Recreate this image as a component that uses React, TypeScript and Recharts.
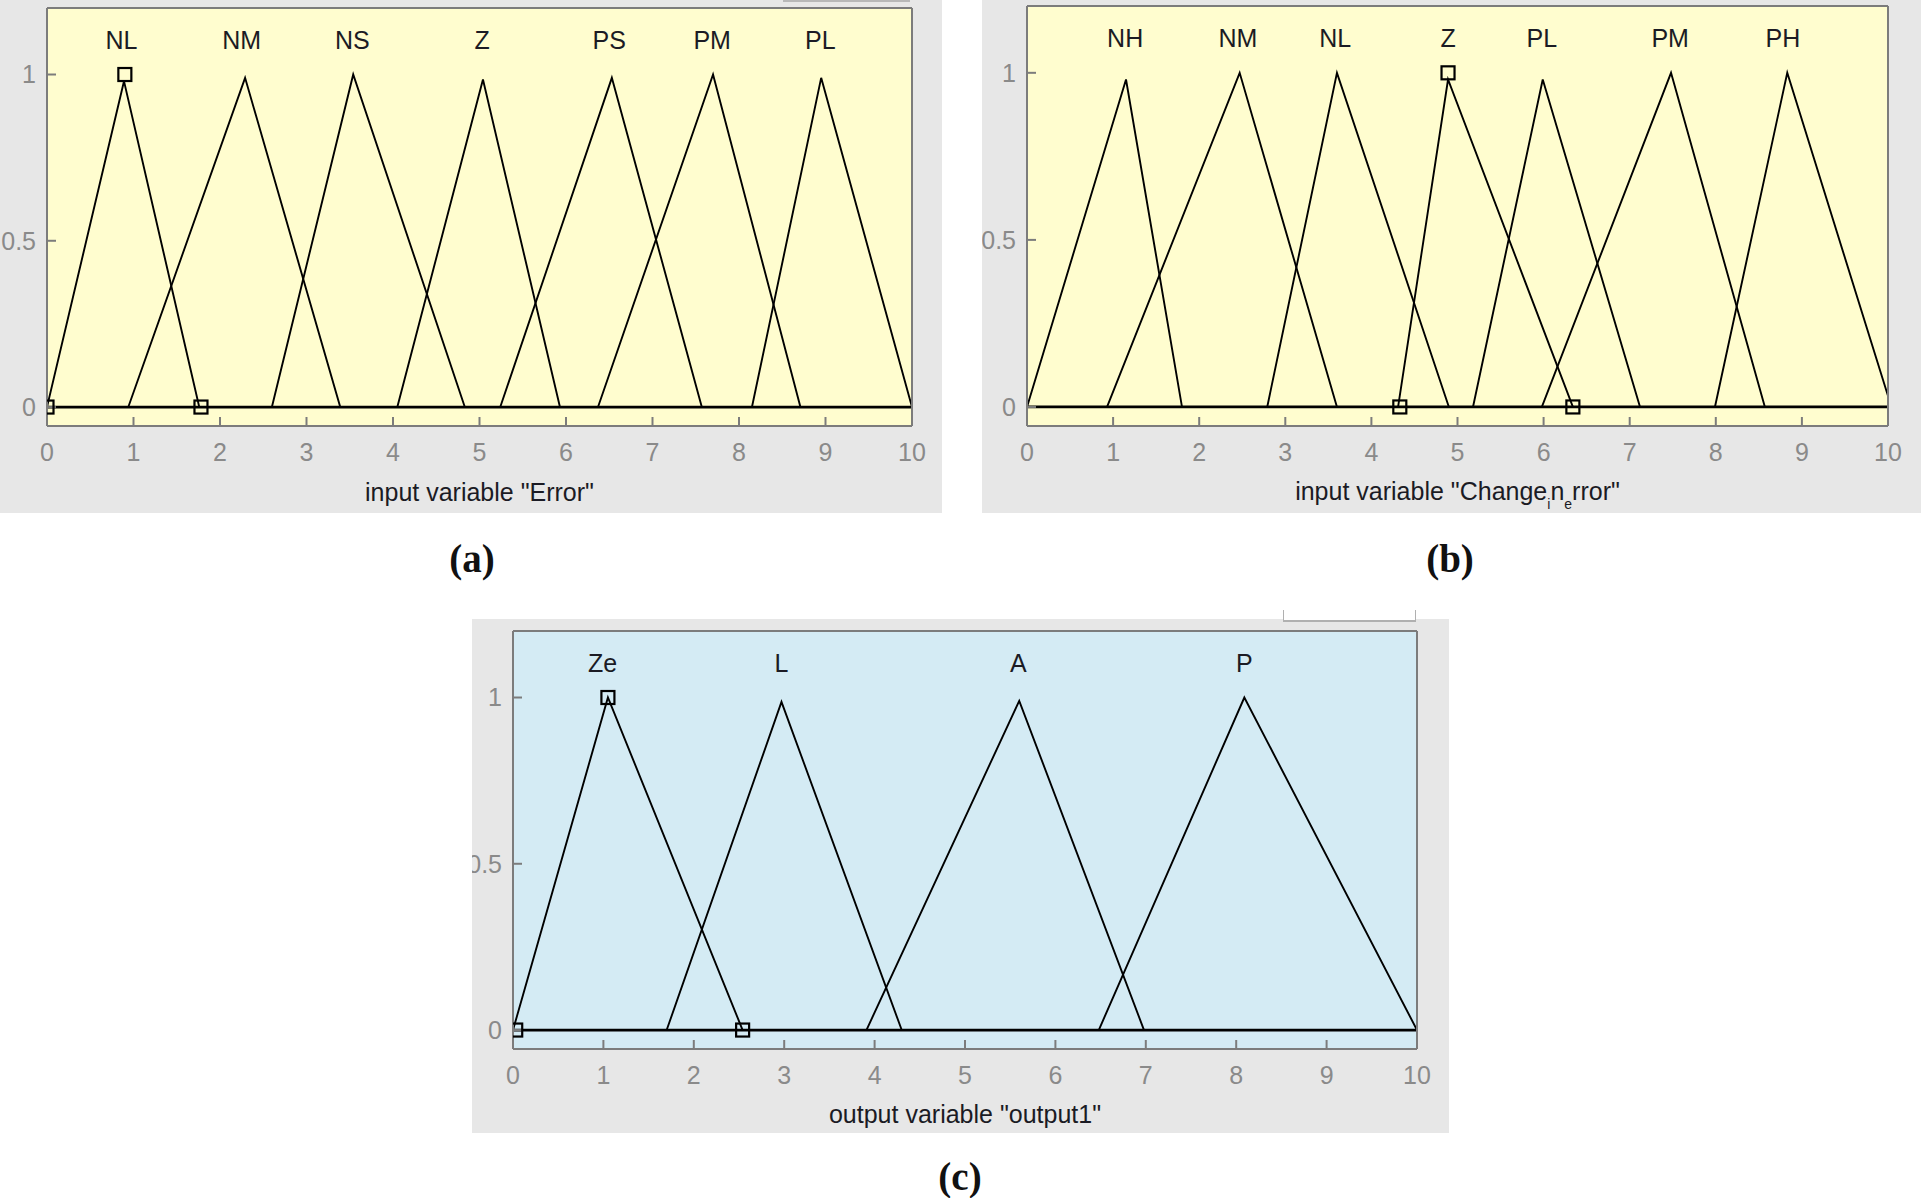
import React from "react";
import {
  ComposedChart,
  Line,
  Scatter,
  XAxis,
  YAxis,
  CartesianGrid,
} from "recharts";

const xTicks = [0, 1, 2, 3, 4, 5, 6, 7, 8, 9, 10];
const yTicks = [0, 0.5, 1];
const labelLevel = 1.105;

// (a) input variable "Error"
const errorNames = ["NL", "NM", "NS", "Z", "PS", "PM", "PL"];
const errorStart = [0, 0.94, 2.6, 4.05, 5.24, 6.37, 8.15];
const errorPeak = [0.89, 2.29, 3.54, 5.04, 6.53, 7.7, 8.95];
const errorEnd = [1.76, 3.39, 4.83, 5.93, 7.57, 8.71, 10];
const errorHeight = [0.98, 0.99, 1, 0.985, 0.99, 1, 0.99];
const errorLabelX = [0.86, 2.25, 3.53, 5.03, 6.5, 7.69, 8.94];
const errorMarkX = [0, 0.9, 1.78];
const errorMarkY = [0, 1, 0];

// (b) input variable "Change_in_error"
const changeNames = ["NH", "NM", "NL", "Z", "PL", "PM", "PH"];
const changeStart = [0, 0.93, 2.79, 4.31, 5.18, 5.98, 7.99];
const changePeak = [1.15, 2.47, 3.6, 4.89, 5.99, 7.48, 8.83];
const changeEnd = [1.8, 3.6, 4.9, 6.34, 7.12, 8.57, 10.04];
const changeHeight = [0.98, 1, 1, 0.98, 0.98, 1, 1];
const changeLabelX = [1.14, 2.45, 3.58, 4.89, 5.98, 7.47, 8.78];
const changeMarkX = [4.33, 4.89, 6.34];
const changeMarkY = [0, 1, 0];

// (c) output variable "output1"
const outNames = ["Ze", "L", "A", "P"];
const outStart = [0, 1.7, 3.91, 6.48];
const outPeak = [1.05, 2.97, 5.6, 8.09];
const outEnd = [2.54, 4.3, 6.98, 10];
const outHeight = [1, 0.987, 0.99, 1];
const outLabelX = [0.99, 2.97, 5.59, 8.09];
const outMarkX = [0.03, 1.05, 2.54];
const outMarkY = [0, 1, 0];

const font = '"Liberation Sans", Arial, sans-serif';
const boxColor = "#7c7c7c";
const tickColor = "#8a8a8a";
const panelGray = "#e7e7e7";

function MfPanel(props: any) {
  const {
    left, top, w, h, plot, bg, names, starts, peaks, ends, heights,
    labelX, markX, markY, title, titleY,
  } = props;
  const [pl, pt, pr, pb] = plot;
  const tris = starts.map((s: number, i: number) => [
    { x: s, y: 0 },
    { x: peaks[i], y: heights[i] },
    { x: ends[i], y: 0 },
  ]);
  const labels = names.map((n: string, i: number) => ({ x: labelX[i], y: labelLevel, name: n }));
  const marks = markX.map((x: number, i: number) => ({ x, y: markY[i] }));

  return (
    <div
      style={{
        position: "absolute", left, top, width: w, height: h,
        background: panelGray, overflow: "hidden", fontFamily: font,
      }}
    >
      <ComposedChart
        width={w}
        height={h}
        margin={{ top: pt - 1, right: w - pr - 1, bottom: 0, left: 0 }}
      >
        <CartesianGrid horizontal={false} vertical={false} fill={bg} fillOpacity={1} stroke="none" />
        <XAxis
          type="number" dataKey="x" domain={[0, 10]} ticks={xTicks} interval={0}
          allowDataOverflow height={h - pb} tickSize={-9} tickMargin={26}
          axisLine={{ stroke: boxColor, strokeWidth: 2 }}
          tickLine={{ stroke: boxColor, strokeWidth: 2 }}
          tick={{ fill: tickColor, fontSize: 25 }}
        />
        <XAxis
          xAxisId="top" orientation="top" type="number" domain={[0, 10]} ticks={xTicks}
          interval={0} allowDataOverflow height={1} tickSize={-8} tick={false}
          axisLine={{ stroke: boxColor, strokeWidth: 2 }}
          tickLine={{ stroke: boxColor, strokeWidth: 2 }}
        />
        <YAxis
          type="number" dataKey="y" domain={[-0.057, 1.2]} ticks={yTicks} interval={0}
          allowDataOverflow width={pl} tickSize={-9} tickMargin={20}
          axisLine={{ stroke: boxColor, strokeWidth: 2 }}
          tickLine={{ stroke: boxColor, strokeWidth: 2 }}
          tick={{ fill: tickColor, fontSize: 25 }}
        />
        <YAxis
          yAxisId="right" orientation="right" type="number" domain={[-0.057, 1.2]}
          ticks={yTicks} interval={0} allowDataOverflow width={1} tickSize={-9} tick={false}
          axisLine={{ stroke: boxColor, strokeWidth: 2 }}
          tickLine={{ stroke: boxColor, strokeWidth: 2 }}
        />
        <Line
          data={[{ x: 0, y: 0 }, { x: 10, y: 0 }]} dataKey="y" type="linear"
          stroke="#000" strokeWidth={2.8} dot={false} isAnimationActive={false}
        />
        {tris.map((d: any, i: number) => (
          <Line
            key={i} data={d} dataKey="y" type="linear" stroke="#000"
            strokeWidth={1.9} dot={false} isAnimationActive={false}
          />
        ))}
        <Scatter
          data={marks} dataKey="y" isAnimationActive={false}
          shape={(p: any) => (
            <rect x={p.cx - 6.5} y={p.cy - 6.5} width={13} height={13}
              fill="none" stroke="#000" strokeWidth={2.2} />
          )}
        />
        <Scatter
          data={labels} dataKey="y" isAnimationActive={false}
          shape={(p: any) => (
            <text x={p.cx} y={p.cy} dy="0.36em" textAnchor="middle"
              fontSize={25} fill="#1b1b24" fontFamily={font}>
              {p.payload.name}
            </text>
          )}
        />
      </ComposedChart>
      <div
        style={{
          position: "absolute", left: (pl + pr) / 2, top: titleY,
          transform: "translate(-50%, -50%)", whiteSpace: "nowrap",
          fontSize: 25, color: "#1b1b24", lineHeight: 1,
        }}
      >
        {title}
      </div>
    </div>
  );
}

const captionStyle: React.CSSProperties = {
  position: "absolute", transform: "translate(-50%, -50%)",
  fontFamily: '"Liberation Serif", "Times New Roman", serif',
  fontWeight: "bold", fontSize: 39, lineHeight: 1, color: "#111",
};

export default function App() {
  const sub: React.CSSProperties = { fontSize: 14, position: "relative", top: 9 };
  return (
    <div style={{ position: "absolute", left: 0, top: 0, width: 1921, height: 1198, background: "#fff" }}>
      <MfPanel
        left={0} top={0} w={942} h={513} plot={[47, 8, 912, 426]} bg="#fffdcf"
        names={errorNames} starts={errorStart} peaks={errorPeak} ends={errorEnd}
        heights={errorHeight} labelX={errorLabelX} markX={errorMarkX} markY={errorMarkY}
        title={'input variable "Error"'} titleY={492}
      />
      <div style={{ position: "absolute", left: 783, top: 0, width: 127, height: 2, background: "#b8b8b8" }} />
      <MfPanel
        left={982} top={0} w={939} h={513} plot={[45, 6, 906, 426]} bg="#fffdcf"
        names={changeNames} starts={changeStart} peaks={changePeak} ends={changeEnd}
        heights={changeHeight} labelX={changeLabelX} markX={changeMarkX} markY={changeMarkY}
        title={
          <span>
            input variable "Change<span style={sub}>i</span>n<span style={sub}>e</span>rror"
          </span>
        }
        titleY={491}
      />
      <MfPanel
        left={472} top={619} w={977} h={514} plot={[41, 12, 945, 430]} bg="#d4ebf4"
        names={outNames} starts={outStart} peaks={outPeak} ends={outEnd}
        heights={outHeight} labelX={outLabelX} markX={outMarkX} markY={outMarkY}
        title={'output variable "output1"'} titleY={495}
      />
      <div
        style={{
          position: "absolute", left: 1283, top: 610, width: 131, height: 10,
          background: "#fff", borderLeft: "1px solid #b0b0b0", borderRight: "1px solid #b0b0b0",
          borderBottom: "2px solid #b0b0b0",
        }}
      />
      <div style={{ ...captionStyle, left: 472, top: 558 }}>(a)</div>
      <div style={{ ...captionStyle, left: 1450, top: 558 }}>(b)</div>
      <div style={{ ...captionStyle, left: 960, top: 1176 }}>(c)</div>
    </div>
  );
}
